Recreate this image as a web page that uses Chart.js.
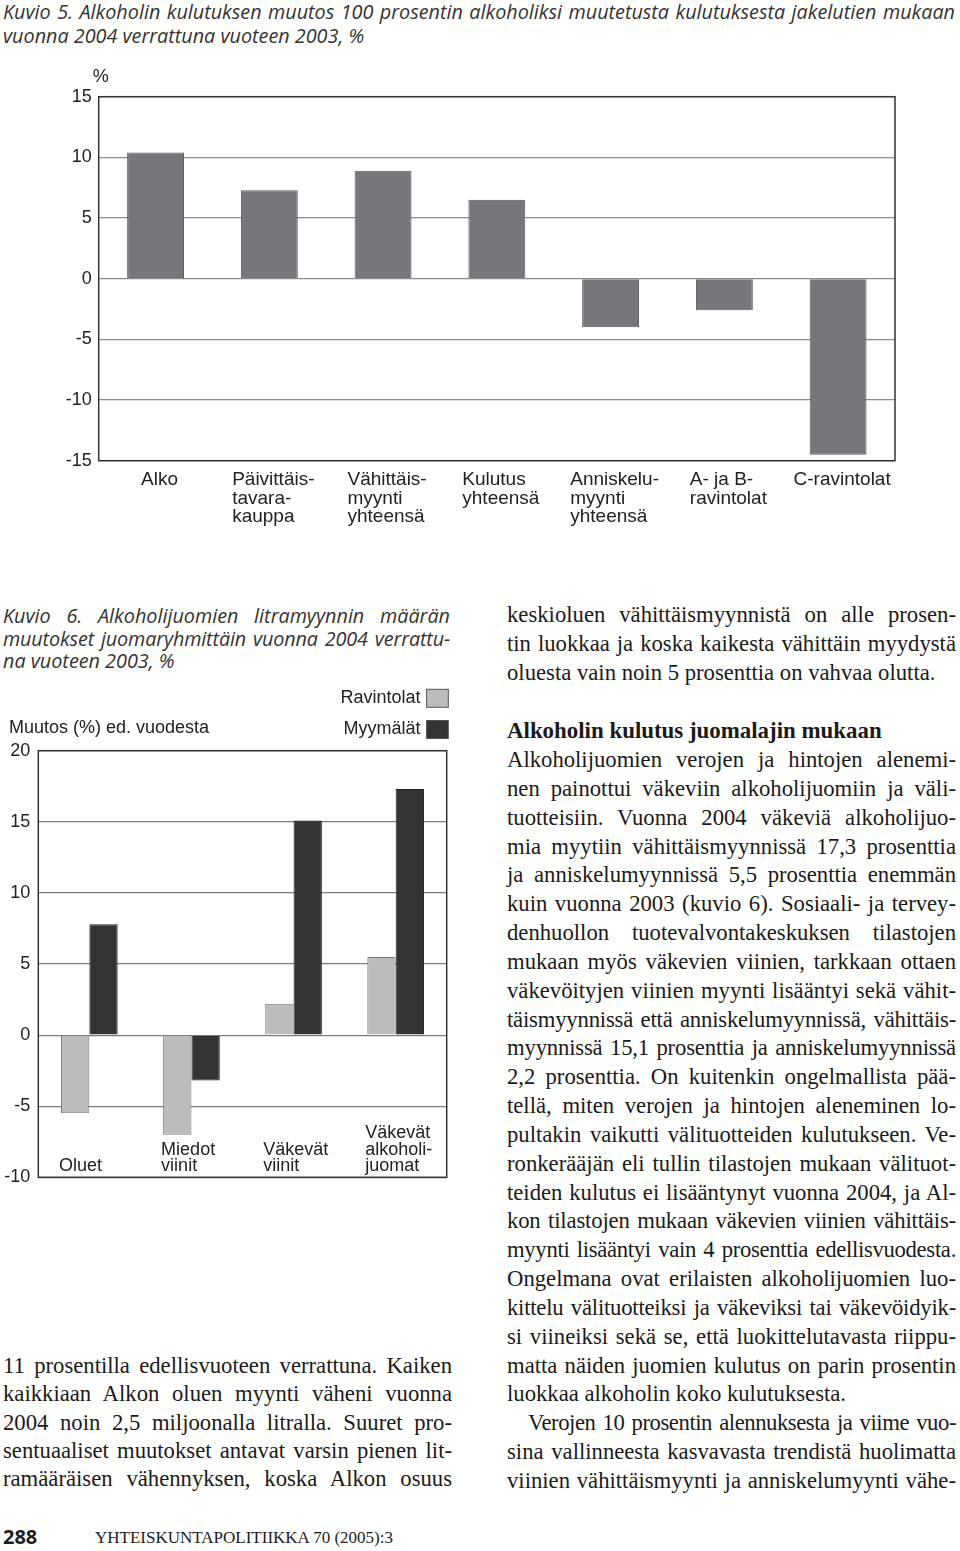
<!DOCTYPE html>
<html>
<head>
<meta charset="utf-8">
<script src="https://cdn.jsdelivr.net/npm/chart.js@4/dist/chart.umd.min.js"></script>
<style>
html, body { margin: 0; padding: 0; background: #fff; }
body { width: 960px; height: 1551px; position: relative; overflow: hidden; color: #1c1c1c; }
canvas { position: absolute; }
.ln { position: absolute; white-space: nowrap; }
.cap { font-family: "Open Sans", sans-serif; font-style: italic; font-size: 19.8px; line-height: 24px; color: #333; }
.txt { font-family: "Liberation Serif", serif; font-size: 22.7px; line-height: 28.8px; color: #1a1a1a; }
.hd { font-family: "Liberation Serif", serif; font-weight: bold; font-size: 22.9px; line-height: 28.8px; color: #1a1a1a; }
#pg { position: absolute; left: 3px; top: 1523px; font-family: "Open Sans", sans-serif; font-weight: bold; font-size: 20px; line-height: 28px; }
#jr { position: absolute; left: 95px; top: 1524px; font-family: "Liberation Serif", serif; font-size: 17px; line-height: 28px; white-space: nowrap; }
</style>
</head>
<body>
<canvas id="kuvio5" width="920" height="480" style="left:0;top:60px"></canvas>
<canvas id="kuvio6" width="470" height="520" style="left:0;top:680px"></canvas>
<div id="pg">288</div>
<div id="jr">YHTEISKUNTAPOLITIIKKA 70 (2005):3</div>
<script>
// Kuvio 5: muutos jakelutien mukaan, %
const k5Labels = [['Alko'], ['Päivittäis-', 'tavara-', 'kauppa'], ['Vähittäis-', 'myynti', 'yhteensä'],
	['Kulutus', 'yhteensä'], ['Anniskelu-', 'myynti', 'yhteensä'], ['A- ja B-', 'ravintolat'], ['C-ravintolat']];
const k5Values = [10.4, 7.3, 8.9, 6.5, -4.0, -2.6, -14.5];
const k5Min = -15, k5Max = 15, k5Step = 5;

// Kuvio 6: litramyynnin muutos juomaryhmittäin, %
const k6Labels = [['Oluet'], ['Miedot', 'viinit'], ['Väkevät', 'viinit'], ['Väkevät', 'alkoholi-', 'juomat']];
const k6Ravintolat = [-5.5, -7.0, 2.2, 5.5];
const k6Myymalat = [7.8, -3.2, 15.1, 17.3];
const k6Min = -10, k6Max = 20, k6Step = 5;

const titleK5 = ['Kuvio 5. Alkoholin kulutuksen muutos 100 prosentin alkoholiksi muutetusta kulutuksesta jakelutien mukaan',
	'vuonna 2004 verrattuna vuoteen 2003, %'];
const titleK6 = ['Kuvio 6. Alkoholijuomien litramyynnin määrän',
	'muutokset juomaryhmittäin vuonna 2004 verrattu-',
	'na vuoteen 2003, %'];
const rightTop = ['keskioluen vähittäismyynnistä on alle prosen-',
	'tin luokkaa ja koska kaikesta vähittäin myydystä',
	'oluesta vain noin 5 prosenttia on vahvaa olutta.'];
const rightHeading = 'Alkoholin kulutus juomalajin mukaan';
const rightBody = ['Alkoholijuomien verojen ja hintojen alenemi-',
	'nen painottui väkeviin alkoholijuomiin ja väli-',
	'tuotteisiin. Vuonna 2004 väkeviä alkoholijuo-',
	'mia myytiin vähittäismyynnissä 17,3 prosenttia',
	'ja anniskelumyynnissä 5,5 prosenttia enemmän',
	'kuin vuonna 2003 (kuvio 6). Sosiaali- ja tervey-',
	'denhuollon tuotevalvontakeskuksen tilastojen',
	'mukaan myös väkevien viinien, tarkkaan ottaen',
	'väkevöityjen viinien myynti lisääntyi sekä vähit-',
	'täismyynnissä että anniskelumyynnissä, vähittäis-',
	'myynnissä 15,1 prosenttia ja anniskelumyynnissä',
	'2,2 prosenttia. On kuitenkin ongelmallista pää-',
	'tellä, miten verojen ja hintojen aleneminen lo-',
	'pultakin vaikutti välituotteiden kulutukseen. Ve-',
	'ronkerääjän eli tullin tilastojen mukaan välituot-',
	'teiden kulutus ei lisääntynyt vuonna 2004, ja Al-',
	'kon tilastojen mukaan väkevien viinien vähittäis-',
	'myynti lisääntyi vain 4 prosenttia edellisvuodesta.',
	'Ongelmana ovat erilaisten alkoholijuomien luo-',
	'kittelu välituotteiksi ja väkeviksi tai väkevöidyik-',
	'si viineiksi sekä se, että luokittelutavasta riippu-',
	'matta näiden juomien kulutus on parin prosentin',
	'luokkaa alkoholin koko kulutuksesta.'];
const rightLast = ['Verojen 10 prosentin alennuksesta ja viime vuo-',
	'sina vallinneesta kasvavasta trendistä huolimatta',
	'viinien vähittäismyynti ja anniskelumyynti vähe-'];
const leftBottom = ['11 prosentilla edellisvuoteen verrattuna. Kaiken',
	'kaikkiaan Alkon oluen myynti väheni vuonna',
	'2004 noin 2,5 miljoonalla litralla. Suuret pro-',
	'sentuaaliset muutokset antavat varsin pienen lit-',
	'ramääräisen vähennyksen, koska Alkon osuus'];

function placeLines(lines, o) {
	lines.forEach((t, i) => {
		const d = document.createElement('div');
		d.className = 'ln ' + o.cls;
		const indent = (i === 0 && o.indent) ? o.indent : 0;
		d.style.left = (o.x + indent) + 'px';
		d.style.top = (o.y + i * o.lh) + 'px';
		const s = document.createElement('span');
		s.textContent = t;
		d.appendChild(s);
		if (o.justify && !(o.lastLeft && i === lines.length - 1)) s.dataset.w = o.w - indent;
		document.body.appendChild(d);
	});
}

// jokainen rivi venytetään tai tiivistetään omaan leveyteensä
function fitLines() {
	document.querySelectorAll('span[data-w]').forEach(s => {
		s.style.wordSpacing = '0px';
		s.style.letterSpacing = '0px';
		const w = parseFloat(s.dataset.w);
		const nat = s.getBoundingClientRect().width;
		const n = (s.textContent.match(/ /g) || []).length;
		if (nat > w - n * 1.0) {
			// liian pitkä: pienennetään ensin välistystä kirjainten väliltä
			const extra = nat - w + n * 2;
			s.style.letterSpacing = (-extra / s.textContent.length) + 'px';
		}
		const nat2 = s.getBoundingClientRect().width;
		if (n) s.style.wordSpacing = ((w - nat2) / n) + 'px';
	});
}

placeLines(titleK5, { cls: 'cap', x: 3, y: 0, lh: 24, w: 952, justify: true, lastLeft: true });
placeLines(titleK6, { cls: 'cap', x: 3, y: 604, lh: 22.5, w: 447, justify: true, lastLeft: true });
placeLines(rightTop, { cls: 'txt', x: 507, y: 601, lh: 29.2, w: 449, justify: true, lastLeft: true });
placeLines([rightHeading], { cls: 'hd', x: 507, y: 717, lh: 28.8 });
placeLines(rightBody, { cls: 'txt', x: 507, y: 746, lh: 28.84, w: 449, justify: true, lastLeft: true });
placeLines(rightLast, { cls: 'txt', x: 507, y: 746 + 23 * 28.84, lh: 28.84, w: 449, justify: true, indent: 21 });
placeLines(leftBottom, { cls: 'txt', x: 3, y: 1352, lh: 28.3, w: 449, justify: true });

Chart.defaults.font.family = '"Liberation Sans", Arial, sans-serif';
Chart.defaults.color = '#222';

const frame = {
	id: 'frame',
	afterDraw(chart) {
		const a = chart.chartArea, ctx = chart.ctx;
		ctx.save();
		ctx.strokeStyle = '#333';
		ctx.lineWidth = 1.5;
		ctx.strokeRect(a.left, a.top, a.right - a.left, a.bottom - a.top);
		ctx.restore();
	}
};

const k5Text = {
	id: 'k5Text',
	afterDraw(chart) {
		const ctx = chart.ctx, x = chart.scales.x, a = chart.chartArea;
		ctx.save();
		ctx.fillStyle = '#222';
		ctx.font = '19px "Liberation Sans", Arial, sans-serif';
		ctx.textBaseline = 'alphabetic';
		ctx.textAlign = 'left';
		k5Labels.forEach((lines, i) => {
			const w = Math.max(...lines.map(l => ctx.measureText(l).width));
			const left = x.getPixelForValue(i) - w / 2 + 4;
			lines.forEach((l, j) => ctx.fillText(l, left, a.bottom + 24.3 + j * 18.7));
		});
		ctx.font = '18px "Liberation Sans", Arial, sans-serif';
		ctx.textBaseline = 'middle';
		ctx.fillText('%', a.left - 6, a.top - 19.7);
		ctx.restore();
	}
};

new Chart(document.getElementById('kuvio5'), {
	type: 'bar',
	data: {
		labels: k5Labels,
		datasets: [{
			data: k5Values,
			backgroundColor: '#76777b',
			borderColor: '#5a5b5f',
			borderWidth: 1,
			barPercentage: 0.5,
			categoryPercentage: 1
		}]
	},
	options: {
		responsive: false,
		animation: false,
		layout: { padding: { top: 36.7, right: 25, bottom: 79.3, left: 0 } },
		plugins: { legend: { display: false }, tooltip: { enabled: false } },
		scales: {
			x: { display: false },
			y: {
				min: k5Min, max: k5Max,
				afterFit(s) { s.width = 98.7; },
				ticks: { stepSize: k5Step, padding: 7, font: { size: 18 }, color: '#222' },
				grid: { color: '#8c8c8c', lineWidth: 1.3, drawTicks: false },
				border: { display: false }
			}
		}
	},
	plugins: [frame, k5Text]
});

const k6Text = {
	id: 'k6Text',
	afterDraw(chart) {
		const ctx = chart.ctx, a = chart.chartArea;
		const bars = chart.getDatasetMeta(0).data;
		ctx.save();
		ctx.fillStyle = '#222';
		ctx.font = '18px "Liberation Sans", Arial, sans-serif';
		ctx.textAlign = 'left';
		ctx.textBaseline = 'alphabetic';
		k6Labels.forEach((lines, i) => {
			const left = bars[i].x - bars[i].width / 2 - 2;
			const n = lines.length;
			lines.forEach((l, j) => ctx.fillText(l, left, a.bottom - 6.3 - (n - 1 - j) * 16.5));
		});
		// akselin otsikko
		ctx.textBaseline = 'middle';
		ctx.fillText('Muutos (%) ed. vuodesta', 9, a.top - 23);
		// selite
		ctx.textAlign = 'right';
		chart.data.datasets.forEach((ds, k) => {
			const cy = a.top - 52.4 + k * 31.2;
			const bx = a.right + 1.6 - 21.7;
			ctx.fillStyle = ds.backgroundColor;
			ctx.fillRect(bx, cy - 9, 21.7, 18);
			ctx.strokeStyle = '#555';
			ctx.lineWidth = 1;
			ctx.strokeRect(bx, cy - 9, 21.7, 18);
			ctx.fillStyle = '#222';
			ctx.fillText(ds.label, bx - 6, cy);
		});
		ctx.restore();
	}
};

new Chart(document.getElementById('kuvio6'), {
	type: 'bar',
	data: {
		labels: k6Labels,
		datasets: [{
			label: 'Ravintolat',
			data: k6Ravintolat,
			backgroundColor: '#bbbcbe',
			borderColor: '#7a7b7d',
			borderWidth: 1
		}, {
			label: 'Myymälät',
			data: k6Myymalat,
			backgroundColor: '#333333',
			borderColor: '#222',
			borderWidth: 1
		}]
	},
	options: {
		responsive: false,
		animation: false,
		datasets: { bar: { barPercentage: 1, categoryPercentage: 0.555 } },
		layout: { padding: { top: 70.7, right: 23.3, bottom: 22.7, left: 0 } },
		plugins: { legend: { display: false }, tooltip: { enabled: false } },
		scales: {
			x: { display: false },
			y: {
				min: k6Min, max: k6Max,
				afterFit(s) { s.width = 38.3; },
				ticks: { stepSize: k6Step, padding: 8, font: { size: 18 }, color: '#222' },
				grid: { color: '#7c7c7c', lineWidth: 1.2, drawTicks: false },
				border: { display: false }
			}
		}
	},
	plugins: [frame, k6Text]
});

fitLines();
if (document.fonts) document.fonts.ready.then(fitLines);
</script>
</body>
</html>
